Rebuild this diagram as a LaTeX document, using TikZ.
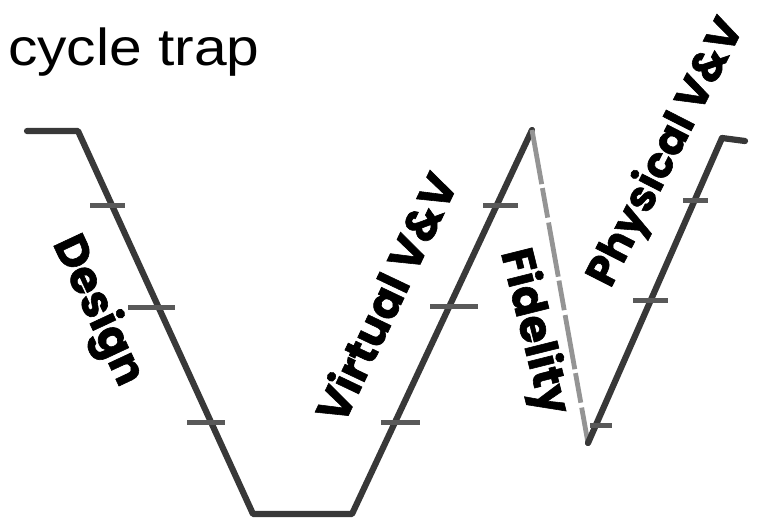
\documentclass[tikz,border=0pt]{standalone}
\usepackage{fontspec}
\setmainfont{Liberation Sans}
\newfontfamily\lblfont{Poppins}[BoldFeatures={FakeBold=1.3}]
\begin{document}
\begin{tikzpicture}[x=1pt,y=-1pt,
  vline/.style={line width=6.2pt, draw=black!78, line join=round, line cap=round},
  fidline/.style={line width=4.8pt, draw=black!42, line cap=butt, dash pattern=on 55pt off 4pt on 30pt off 5pt},
  tick/.style={line width=5pt, draw=black!65},
  lbl/.style={font=\lblfont\bfseries\fontsize{45}{45}\selectfont, inner sep=0pt}]
\useasboundingbox (0,0) rectangle (759,523);
\node[anchor=base west, inner sep=0pt, font=\fontsize{52}{52}\selectfont, xscale=1.13] (title) at (8,65) {cycle trap};
% corners
\coordinate (a0) at (27,131);
\coordinate (a1) at (78,131);
\coordinate (a2) at (253,514);
\coordinate (a3) at (352,514);
\coordinate (a4) at (532,130);
\coordinate (a5) at (588,443);
\coordinate (a6) at (722,138);
\coordinate (a7) at (745,141);
\draw[vline] (a0) -- (a1) -- (a2) -- (a3) -- (a4);
\draw[fidline] (a4) -- (a5);
\draw[vline] (a5) -- (a6) -- (a7);
% ticks
\draw[tick] (90,205) -- (125,205);
\draw[tick] (128,307) -- (175,307);
\draw[tick] (187,422) -- (225,422);
\draw[tick] (483,205) -- (518,205);
\draw[tick] (430,306) -- (478,306);
\draw[tick] (381,422) -- (420,422);
\draw[tick] (683,200) -- (708,200);
\draw[tick] (633,300) -- (668,300);
\draw[tick] (590,425) -- (612,425);
% labels
\node[lbl, rotate=-65] (design) at (97,311) {Design};
\node[lbl, rotate=64.6] (virtual) at (385,297) {Virtual V\&V};
\node[lbl, rotate=-76] (fidelity) at (533,332) {Fidelity};
\node[lbl, rotate=63, font=\lblfont\bfseries\fontsize{43}{43}\selectfont] (physical) at (667,153) {Physical V\&V};
\end{tikzpicture}
\end{document}
